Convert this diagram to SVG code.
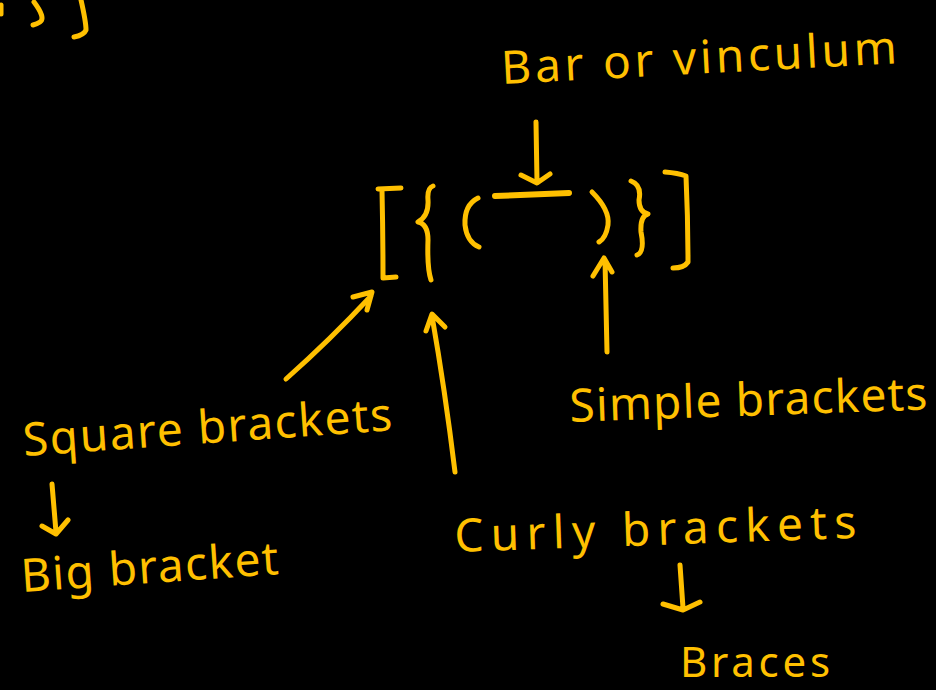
<svg xmlns="http://www.w3.org/2000/svg" width="936" height="690" viewBox="0 0 936 690">
<style>
.ink{fill:none;stroke:#FFC000;stroke-width:5;stroke-linecap:round;stroke-linejoin:round}
.lbl{fill:#FFC000;font-family:"Noto Sans","Liberation Sans",sans-serif;font-weight:400}
</style>
<rect width="936" height="690" fill="#000"/>
<g id="fragments">
<path class="ink" d="M1 5 L1 14"/>
<path class="ink" d="M34 2 Q46 18 40 22 Q37 24 33 25"/>
<path class="ink" d="M81 0 Q86 22 86 30 Q84 35 74 37"/>
</g>
<g id="brackets">
<path class="ink" d="M378 189 L401 188 M382 190 Q383 235 383 278 L396 277"/>
<path class="ink" d="M433 186 Q427 188 428 200 Q429 216 418 222 Q428 224 428 240 Q427 268 431 280"/>
<path class="ink" d="M478 198 Q464 205 465 225 Q467 242 479 247"/>
<path class="ink" style="stroke-width:6" d="M495 196 L569 193"/>
<path class="ink" d="M592 192 Q610 210 608 225 Q606 238 599 242"/>
<path class="ink" d="M631 181 Q642 185 639 200 Q639 212 648 214 Q640 216 641 232 Q645 252 637 255"/>
<path class="ink" d="M665 172 Q678 173 686 176 Q688 220 688 262 Q684 268 673 268"/>
</g>
<g id="connectors">
<path class="ink" d="M536 122 L537 182 M521 175 L537 183 L550 174"/>
<path class="ink" d="M286 379 Q330 340 371 296 M353 297 L372 292 L367 310"/>
<path class="ink" d="M455 472 Q445 390 432 316 M426 331 L432 314 L445 327"/>
<path class="ink" d="M607 352 L605 260 M593 276 L604 258 L612 272"/>
<path class="ink" d="M52 484 L56 532 M42 526 L56 534 L68 520"/>
<path class="ink" d="M680 565 L683 608 M663 604 L683 610 L700 602"/>
</g>
<g id="bar-label"><text class="lbl" x="502" y="84" font-size="46" textLength="396" lengthAdjust="spacing" transform="rotate(-3 502 84)">Bar or vinculum</text></g>
<g id="square-label"><text class="lbl" x="24" y="456" font-size="46" textLength="370" lengthAdjust="spacing" transform="rotate(-4 24 456)">Square brackets</text></g>
<g id="big-label"><text class="lbl" x="22" y="592" font-size="46" textLength="258" lengthAdjust="spacing" transform="rotate(-4 22 592)">Big bracket</text></g>
<g id="simple-label"><text class="lbl" x="570" y="422" font-size="46" textLength="358" lengthAdjust="spacing" transform="rotate(-2 570 422)">Simple brackets</text></g>
<g id="curly-label"><text class="lbl" x="455" y="552" font-size="46" textLength="402" lengthAdjust="spacing" transform="rotate(-2 455 552)">Curly brackets</text></g>
<g id="braces-label"><text class="lbl" x="680" y="677" font-size="42" textLength="150" lengthAdjust="spacing">Braces</text></g>
</svg>
